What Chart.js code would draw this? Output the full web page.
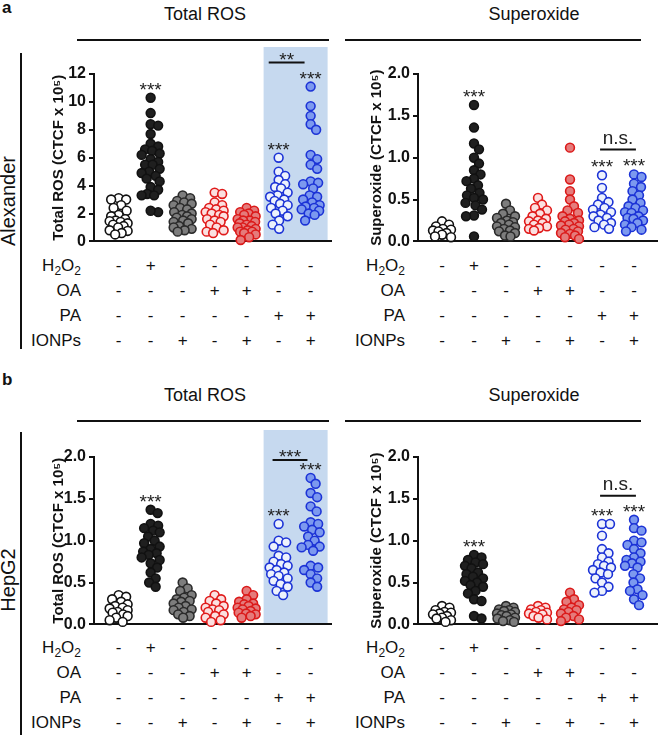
<!DOCTYPE html>
<html><head><meta charset="utf-8">
<script src="https://cdn.jsdelivr.net/npm/chart.js@4.4.1/dist/chart.umd.min.js"></script>
<style>
html,body{margin:0;padding:0;background:#fff}
body{width:661px;height:735px;overflow:hidden;position:relative;font-family:'Liberation Sans',Arial,Helvetica,sans-serif;color:#111}
.abs{position:absolute;white-space:nowrap}
canvas{position:absolute}
sub{font-size:12px;vertical-align:-4px;line-height:0}
.hl{position:absolute;height:2px;background:#111}
.vl{position:absolute;width:2px;background:#111}
</style></head><body>
<script>
// ---------- categories / table ----------
const groups = ['Control','H2O2','IONPs','OA','OA+IONPs','PA','PA+IONPs'];
const treatments = ['H2O2','OA','PA','IONPs'];
const signs = [
  ['-','+','-','-','-','-','-'],
  ['-','-','-','+','+','-','-'],
  ['-','-','-','-','-','+','+'],
  ['-','-','+','-','+','-','+']
];
const totalTicksA = [0,2,4,6,8,10,12];
const ticks05 = [0,0.5,1.0,1.5,2.0];

// ---------- a: Alexander, Total ROS ----------
const aTotCtrl = [3.1,3.0,3.0,2.6,2.4,2.2,1.9,1.8,1.6,1.5,1.45,1.4,1.3,1.2,1.1,1.0,0.8,0.75,0.6,0.5];
const aTotH2O2 = [10.3,9.2,8.4,8.3,7.7,7.0,6.8,6.6,6.5,6.3,6.2,5.9,5.7,5.5,5.5,5.2,5.0,4.9,4.7,4.5,4.3,3.9,3.7,3.4,3.3,3.3,2.1,2.2];
const aTotIONP = [3.3,3.1,2.9,2.8,2.7,2.6,2.4,2.3,2.1,2.0,1.9,1.8,1.7,1.6,1.5,1.4,1.3,1.1,1.0,0.9,0.8,0.7];
const aTotOA = [3.5,3.4,2.8,2.6,2.4,2.3,2.2,2.1,2.0,1.9,1.8,1.6,1.5,1.4,1.2,1.0,0.8,0.7,0.6];
const aTotOAI = [2.4,2.2,2.1,2.0,1.9,1.8,1.6,1.5,1.5,1.4,1.3,1.2,1.1,1.0,1.0,0.9,0.8,0.7,0.7,0.6,0.5,0.3,0.1];
const aTotPA = [6.0,5.0,4.7,4.4,4.1,3.9,3.8,3.5,3.3,3.2,3.0,2.9,2.7,2.6,2.4,2.2,2.0,1.8,1.5,1.2,0.9];
const aTotPAI = [11.1,9.7,9.0,8.4,8.0,6.2,5.9,5.5,5.2,4.3,4.2,4.1,3.8,3.3,3.2,3.0,2.8,2.6,2.5,2.4,2.3,2.2,2.0,1.9,1.5];

// ---------- a: Alexander, Superoxide ----------
const aSupCtrl = [0.24,0.2,0.18,0.15,0.14,0.13,0.12,0.1,0.08,0.06,0.05];
const aSupH2O2 = [1.63,1.36,1.17,1.1,1.0,0.93,0.85,0.8,0.75,0.72,0.67,0.63,0.58,0.55,0.52,0.5,0.46,0.43,0.38,0.31,0.3,0.06];
const aSupIONP = [0.45,0.37,0.33,0.3,0.28,0.25,0.23,0.22,0.2,0.18,0.17,0.15,0.13,0.12,0.1,0.07,0.06];
const aSupOA = [0.52,0.44,0.4,0.37,0.33,0.3,0.27,0.25,0.24,0.22,0.2,0.18,0.16,0.15,0.13];
const aSupOAI = [1.12,0.74,0.6,0.5,0.42,0.37,0.34,0.3,0.27,0.25,0.24,0.22,0.2,0.19,0.18,0.15,0.14,0.12,0.1,0.09,0.07,0.05,0.03];
const aSupPA = [0.79,0.64,0.52,0.47,0.44,0.4,0.38,0.35,0.32,0.3,0.28,0.25,0.22,0.2,0.17,0.15];
const aSupPAI = [0.8,0.77,0.69,0.65,0.6,0.55,0.5,0.46,0.42,0.4,0.37,0.35,0.34,0.3,0.28,0.27,0.25,0.22,0.2,0.17,0.14,0.12];

// ---------- b: HepG2, Total ROS ----------
const bTotCtrl = [0.35,0.33,0.3,0.27,0.24,0.22,0.2,0.19,0.17,0.15,0.14,0.12,0.1,0.08,0.05,0.03];
const bTotH2O2 = [1.37,1.33,1.2,1.18,1.15,1.12,1.1,1.05,1.0,0.97,0.93,0.9,0.87,0.85,0.83,0.8,0.77,0.73,0.68,0.62,0.55,0.5,0.45];
const bTotIONP = [0.5,0.43,0.4,0.35,0.32,0.3,0.28,0.27,0.25,0.22,0.2,0.18,0.17,0.15,0.12,0.1,0.08];
const bTotOA = [0.35,0.3,0.28,0.25,0.22,0.2,0.18,0.17,0.15,0.12,0.1,0.08,0.05,0.03];
const bTotOAI = [0.4,0.35,0.3,0.27,0.25,0.24,0.22,0.2,0.19,0.18,0.16,0.14,0.13,0.12,0.1,0.08];
const bTotPA = [1.2,1.0,0.98,0.93,0.82,0.8,0.75,0.72,0.7,0.68,0.65,0.62,0.6,0.58,0.55,0.52,0.48,0.45,0.4,0.35];
const bTotPAI = [1.75,1.68,1.57,1.52,1.41,1.35,1.22,1.2,1.17,1.13,1.1,1.05,1.0,0.95,0.93,0.92,0.88,0.7,0.68,0.65,0.6,0.55,0.5,0.45];

// ---------- b: HepG2, Superoxide ----------
const bSupCtrl = [0.22,0.2,0.17,0.15,0.14,0.13,0.12,0.1,0.08,0.07,0.05,0.03];
const bSupH2O2 = [0.83,0.8,0.77,0.74,0.72,0.7,0.67,0.62,0.6,0.57,0.55,0.52,0.5,0.47,0.45,0.4,0.37,0.3,0.28,0.1,0.07];
const bSupIONP = [0.22,0.2,0.18,0.17,0.16,0.15,0.13,0.12,0.11,0.1,0.08,0.07,0.05,0.04,0.03];
const bSupOA = [0.22,0.2,0.18,0.17,0.15,0.14,0.13,0.12,0.1,0.08,0.06];
const bSupOAI = [0.38,0.3,0.27,0.23,0.2,0.18,0.17,0.15,0.13,0.1,0.08,0.06,0.04];
const bSupPA = [1.2,1.2,1.06,0.9,0.85,0.8,0.75,0.72,0.7,0.68,0.65,0.62,0.6,0.55,0.5,0.45,0.4,0.38];
const bSupPAI = [1.25,1.15,1.12,1.0,0.98,0.95,0.9,0.85,0.8,0.77,0.75,0.73,0.7,0.68,0.6,0.55,0.5,0.42,0.4,0.35,0.3,0.23];

// ---------- styling ----------
const FONT = "'Liberation Sans', Arial, Helvetica, sans-serif";
Chart.defaults.font.family = FONT;
const fills   = ['#ffffff','#1f1f1f','#7d7d7d','#fbe0e0','#e57b7b','#edf2fc','#7c99ef'];
const strokes = ['#111111','#111111','#2b2b2b','#e01a1a','#db1a1a','#1c33d6','#1c33d6'];
const R = 4.4, BW = 1.6, DIST = 7.6, MAXOFF = 9;

const panels = [
  {left:30, top:42, w:305, h:212, padL:16, axisW:48, xmin:-0.77, ymax:12, ticks:totalTicksA, dec:0,
   title:'Total ROS (CTCF x 10\u2075)', series:[aTotCtrl,aTotH2O2,aTotIONP,aTotOA,aTotOAI,aTotPA,aTotPAI],
   stars:[1,5,6], bracket:{from:4.69,to:5.81,text:'**',gap:24,tgap:8}, band:true, labelRight:81, rowBase:[31,56,81,106]},
  {left:340, top:42, w:321, h:212, padL:24, axisW:54, xmin:-0.75, ymax:2, ticks:ticks05, dec:1,
   title:'Superoxide (CTCF x 10\u2075)', series:[aSupCtrl,aSupH2O2,aSupIONP,aSupOA,aSupOAI,aSupPA,aSupPAI],
   stars:[1,5,6], bracket:{from:4.94,to:6.06,text:'n.s.',gap:25,tgap:10}, band:false, labelRight:405, rowBase:[31,56,81,106]},
  {left:30, top:425, w:305, h:212, padL:16, axisW:48, xmin:-0.77, ymax:2, ticks:ticks05, dec:1,
   title:'Total ROS (CTCF x 10\u2075)', series:[bTotCtrl,bTotH2O2,bTotIONP,bTotOA,bTotOAI,bTotPA,bTotPAI],
   stars:[1,5,6], bracket:{from:4.81,to:5.9,text:'***',gap:18,tgap:8}, band:true, labelRight:81, rowBase:[30,55,80,105]},
  {left:340, top:425, w:321, h:212, padL:24, axisW:54, xmin:-0.75, ymax:2, ticks:ticks05, dec:1,
   title:'Superoxide (CTCF x 10\u2075)', series:[bSupCtrl,bSupH2O2,bSupIONP,bSupOA,bSupOAI,bSupPA,bSupPAI],
   stars:[1,5,6], bracket:{from:4.94,to:6.06,text:'n.s.',gap:24,tgap:11}, band:false, labelRight:405, rowBase:[30,55,80,105]}
];

function el(cls, css, html){
  const d = document.createElement('div');
  d.className = cls; Object.assign(d.style, css); if (html!==undefined) d.innerHTML = html;
  document.body.appendChild(d); return d;
}

function makeAnnot(p){
  return {
    id:'annot',
    beforeDraw(chart){
      if (!p.band) return;
      const xs = chart.scales.x, ca = chart.chartArea, ctx = chart.ctx;
      const x1 = xs.getPixelForValue(4.53), x2 = xs.getPixelForValue(6.53);
      ctx.save(); ctx.fillStyle = '#c6d9ef';
      ctx.fillRect(x1, ca.top-27, x2-x1, ca.bottom-(ca.top-27)); ctx.restore();
    },
    afterDatasetsDraw(chart){
      const xs = chart.scales.x, ys = chart.scales.y, ctx = chart.ctx;
      ctx.save();
      ctx.fillStyle = '#222'; ctx.textAlign = 'center'; ctx.textBaseline = 'alphabetic';
      const fs = 19;
      ctx.font = fs + 'px ' + FONT;
      p.stars.forEach(gi=>{
        const top = ys.getPixelForValue(Math.max(...p.series[gi]));
        ctx.fillText('***', xs.getPixelForValue(gi), top - 13 + 0.58*fs);
      });
      const b = p.bracket;
      const mTop = Math.min(ys.getPixelForValue(Math.max(...p.series[5])), ys.getPixelForValue(Math.max(...p.series[6])));
      const ly = mTop - b.gap;
      const x1 = xs.getPixelForValue(b.from), x2 = xs.getPixelForValue(b.to);
      ctx.strokeStyle = '#111'; ctx.lineWidth = 2;
      ctx.beginPath(); ctx.moveTo(x1, ly); ctx.lineTo(x2, ly); ctx.stroke();
      const isStar = b.text.indexOf('*')>=0;
      ctx.fillText(b.text, (x1+x2)/2, ly - b.tgap + (isStar ? 0.58 : 0.26)*fs);
      ctx.restore();
    }
  };
}

function swarm(chart, series){
  const xs = chart.scales.x, ys = chart.scales.y;
  const ppu = xs.getPixelForValue(1) - xs.getPixelForValue(0);
  series.forEach((vals, gi)=>{
    const pts = vals.map((v,k)=>({k, py: ys.getPixelForValue(v)})).sort((a,b)=>a.py-b.py);
    const placed = [];
    pts.forEach(pt=>{
      let best = 0, bestD = -1, done = false;
      for (let s=0; s<=MAXOFF*2 && !done; s++){
        for (const sg of [1,-1]){
          const dx = sg*s*0.5;
          let md = Infinity;
          for (const q of placed){ const d = Math.hypot(dx-q.dx, pt.py-q.py); if (d<md) md=d; }
          if (md >= DIST){ best = dx; done = true; break; }
          if (md > bestD){ bestD = md; best = dx; }
        }
      }
      pt.dx = best; placed.push(pt);
    });
    placed.forEach(pt=>{ chart.data.datasets[gi].data[pt.k].x = gi + pt.dx/ppu; });
  });
  chart.update('none');
}

function buildPanel(p){
  const cv = document.createElement('canvas');
  cv.width = p.w; cv.height = p.h;
  cv.style.left = p.left+'px'; cv.style.top = p.top+'px';
  cv.style.width = p.w+'px'; cv.style.height = p.h+'px';
  document.body.appendChild(cv);
  const chartW = p.w - p.padL - p.axisW - 4;
  const datasets = p.series.map((vals,i)=>({
    label: groups[i],
    data: vals.map(v=>({x:i, y:v})),
    backgroundColor: fills[i], borderColor: strokes[i],
    pointRadius: R, pointHoverRadius: R, borderWidth: BW, clip: false
  }));
  const chart = new Chart(cv, {
    type:'scatter',
    data:{datasets},
    options:{
      responsive:false, animation:false, devicePixelRatio:1, events:[],
      layout:{autoPadding:false, padding:{left:p.padL, top:32, right:4, bottom:8}},
      plugins:{legend:{display:false}, tooltip:{enabled:false}},
      scales:{
        x:{type:'linear', min:p.xmin, max:p.xmin + chartW/32,
           ticks:{display:false}, grid:{display:false},
           border:{display:true, color:'#111', width:2},
           afterFit(s){ s.height = 0; }},
        y:{type:'linear', min:0, max:p.ymax,
           afterBuildTicks(s){ s.ticks = p.ticks.map(v=>({value:v})); },
           ticks:{callback:(v)=> p.dec ? Number(v).toFixed(p.dec) : String(v),
                  font:{family:FONT, size:16, weight:'bold'}, color:'#111', padding:3},
           grid:{display:true, drawOnChartArea:false, drawTicks:true, tickLength:5, color:'#111', lineWidth:2},
           border:{display:true, color:'#111', width:2},
           title:{display:true, text:p.title, color:'#111', font:{family:FONT, size:15, weight:'bold'}, padding:{top:4, bottom:0}},
           afterFit(s){ s.width = p.axisW; }}
      }
    },
    plugins:[makeAnnot(p)]
  });
  swarm(chart, p.series);

  // treatment table under the axis
  const xs = chart.scales.x;
  const base = p.top + chart.chartArea.bottom;
  treatments.forEach((t, r)=>{
    const y = base + p.rowBase[r] - 16;
    el('abs', {left:(p.labelRight-120)+'px', top:y+'px', width:'120px', textAlign:'right', fontSize:'17px', lineHeight:'20px'},
       t.replace(/(\d)/g,'<sub>$1</sub>'));
    signs[r].forEach((s, c)=>{
      const cx = p.left + xs.getPixelForValue(c);
      el('abs', {left:(cx-10)+'px', top:y+'px', width:'20px', textAlign:'center', fontSize:'17px', lineHeight:'20px'}, s);
    });
  });
  return chart;
}

// ---------- static labels ----------
function header(y0, lineY, letter){
  el('abs', {left:'2px', top:(y0-10)+'px', fontSize:'17px', fontWeight:'bold', lineHeight:'20px'}, letter);
  el('abs', {left:'105px', top:(lineY-37)+'px', width:'200px', textAlign:'center', fontSize:'18px', lineHeight:'22px'}, 'Total ROS');
  el('abs', {left:'434px', top:(lineY-37)+'px', width:'200px', textAlign:'center', fontSize:'18px', lineHeight:'22px'}, 'Superoxide');
  el('hl', {left:'77px', top:(lineY-1)+'px', width:'252px'});
  el('hl', {left:'345px', top:(lineY-1)+'px', width:'296px'});
}
header(8, 40, 'a');
header(380, 421, 'b');
el('vl', {left:'20px', top:'53px', height:'296px'});
el('vl', {left:'20px', top:'432px', height:'303px'});
el('abs', {left:'-42px', top:'190px', width:'100px', height:'22px', textAlign:'center', fontSize:'20px', lineHeight:'22px', transform:'rotate(-90deg)'}, 'Alexander');
el('abs', {left:'-42px', top:'569px', width:'100px', height:'22px', textAlign:'center', fontSize:'20px', lineHeight:'22px', transform:'rotate(-90deg)'}, 'HepG2');

panels.forEach(buildPanel);
</script>
</body></html>
